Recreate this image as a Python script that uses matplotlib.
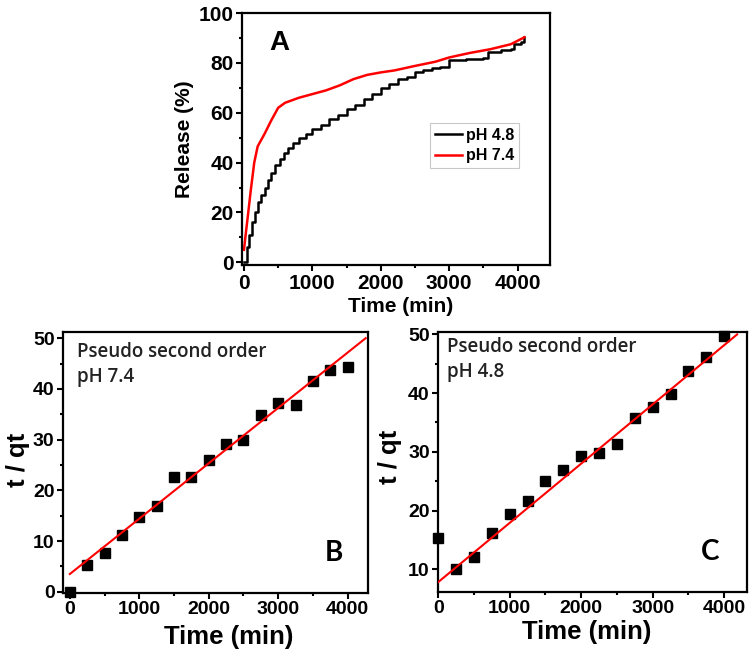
# IMPORTS
import matplotlib
matplotlib.use("Agg")
from matplotlib import pyplot as plt
from matplotlib.ticker import MultipleLocator

# DATA - panel A, cumulative release (%)
time_48 = [0, 40, 80, 120, 160, 200, 250, 300, 350, 400, 460, 520, 580, 650, 720, 800, 900, 1000,
           1120, 1250, 1380, 1500, 1620, 1750, 1870, 2000, 2120, 2250, 2380, 2500, 2620, 2750,
           2870, 3000, 3250, 3500, 3560, 3750, 3900, 3950, 4050, 4100]
release_48 = [0, 6, 11, 16, 20, 24, 27, 30, 33, 36, 39, 41.5, 44, 46, 48, 50, 51.5, 53.5,
              55, 57.5, 59, 61.5, 63, 65.5, 67.5, 70, 71.5, 73.5, 74.5, 76.5, 77, 78,
              78.5, 81, 81.5, 82, 84.5, 85, 85.5, 87.5, 88.5, 90.5]
time_74 = [0, 20, 50, 100, 150, 200, 300, 400, 500, 600, 800, 1000, 1200, 1400, 1600, 1800,
           2000, 2200, 2500, 2800, 3000, 3300, 3600, 3900, 4100]
release_74 = [5, 10, 17, 29, 40, 46.5, 51.5, 57, 62, 64, 66, 67.5, 69, 71, 73.5, 75.2,
              76.2, 77, 78.8, 80.5, 82.2, 84, 85.5, 87.5, 90.3]

# DATA - panels B and C, pseudo second order kinetics
kin_time = [0, 250, 500, 750, 1000, 1250, 1500, 1750, 2000, 2250, 2500, 2750, 3000, 3250, 3500, 3750, 4000]
tq_74 = [0, 5.2, 7.7, 11.2, 14.8, 16.9, 22.6, 22.6, 26.0, 29.1, 29.9, 34.9, 37.2, 36.9, 41.5, 43.8, 44.3]
tq_48 = [15.3, 10.1, 12.1, 16.1, 19.4, 21.7, 25.0, 26.9, 29.3, 29.8, 31.4, 35.8, 37.7, 39.9, 43.7, 46.1, 49.7]
fit_time_74 = [0, 4260]
fit_tq_74 = [3.5, 50]
fit_time_48 = [0, 4180]
fit_tq_48 = [7.8, 50]

plt.rcParams["font.family"] = ["Liberation Sans", "DejaVu Sans"]
plt.rcParams["axes.linewidth"] = 1.6

fig = plt.figure(figsize=(7.49, 6.55), dpi=100)
ax_a = fig.add_axes([0.323, 0.595, 0.411, 0.385])
ax_b = fig.add_axes([0.084, 0.095, 0.407, 0.398])
ax_c = fig.add_axes([0.585, 0.096, 0.4125, 0.397])


def style_axis(ax, tick_size):
    """Origin-like ticks: outward, on left/bottom only"""
    ax.tick_params(which="both", direction="out", top=False, right=False, width=1.5)
    ax.tick_params(which="major", length=4.5, pad=1.5)
    ax.tick_params(which="minor", length=2.5)
    for lab in ax.get_xticklabels() + ax.get_yticklabels():
        lab.set_fontweight("bold")
        lab.set_fontsize(tick_size)


# PANEL A
ax_a.plot(time_48, release_48, color="black", lw=1.8, drawstyle="steps-post", label="pH 4.8")
ax_a.plot(time_74, release_74, color="#ff0000", lw=1.8, label="pH 7.4")
ax_a.set_xlim(-30, 4470)
ax_a.set_ylim(-1.2, 100)
ax_a.xaxis.set_major_locator(MultipleLocator(1000))
ax_a.xaxis.set_minor_locator(MultipleLocator(500))
ax_a.yaxis.set_major_locator(MultipleLocator(20))
ax_a.yaxis.set_minor_locator(MultipleLocator(10))
style_axis(ax_a, 15)
ax_a.set_xlabel("Time (min)", fontsize=15, fontweight="bold")
ax_a.set_ylabel("Release (%)", fontsize=15, fontweight="bold")
ax_a.xaxis.set_label_coords(0.516, -0.125)
ax_a.yaxis.set_label_coords(-0.156, 0.5)
ax_a.text(0.12, 0.881, "A", transform=ax_a.transAxes, fontsize=20, fontweight="bold",
          ha="center", va="center")
leg = ax_a.legend(loc="lower left", bbox_to_anchor=(0.61, 0.385), borderaxespad=0,
                  fancybox=False, edgecolor="#c8c8c8", framealpha=1,
                  prop={"size": 11.5, "weight": "bold"}, handlelength=1.75,
                  handletextpad=0.25, borderpad=0.3, labelspacing=0.35)
leg.get_frame().set_linewidth(0.8)

# PANEL B
ax_b.plot(kin_time, tq_74, "s", color="black", ms=7.5, clip_on=False, zorder=3)
ax_b.plot(fit_time_74, fit_tq_74, color="#ff0000", lw=1.5, zorder=4)
ax_b.set_xlim(-100, 4290)
ax_b.set_ylim(-0.2, 51.2)
ax_b.xaxis.set_major_locator(MultipleLocator(1000))
ax_b.xaxis.set_minor_locator(MultipleLocator(500))
ax_b.yaxis.set_major_locator(MultipleLocator(10))
ax_b.yaxis.set_minor_locator(MultipleLocator(5))
style_axis(ax_b, 14)
ax_b.set_xlabel("Time (min)", fontsize=18.5, fontweight="bold")
ax_b.set_ylabel("t / qt", fontsize=18.5, fontweight="bold")
ax_b.xaxis.set_label_coords(0.544, -0.125)
ax_b.yaxis.set_label_coords(-0.108, 0.51)
ax_b.text(0.046, 0.923, "Pseudo second order", transform=ax_b.transAxes, fontsize=13.5,
          family="Open Sans", fontweight="semibold", color="#222222", va="center")
ax_b.text(0.046, 0.828, "pH 7.4", transform=ax_b.transAxes, fontsize=13.5,
          family="Open Sans", fontweight="semibold", color="#222222", va="center")
ax_b.text(0.889, 0.153, "B", transform=ax_b.transAxes, fontsize=20, family="Lato",
          fontweight="bold", ha="center", va="center")

# PANEL C
ax_c.plot(kin_time, tq_48, "s", color="black", ms=7.5, clip_on=False, zorder=3)
ax_c.plot(fit_time_48, fit_tq_48, color="#ff0000", lw=1.5, zorder=4)
ax_c.set_xlim(0, 4320)
ax_c.set_ylim(6.1, 50.4)
ax_c.xaxis.set_major_locator(MultipleLocator(1000))
ax_c.xaxis.set_minor_locator(MultipleLocator(500))
ax_c.yaxis.set_major_locator(MultipleLocator(10))
ax_c.yaxis.set_minor_locator(MultipleLocator(5))
style_axis(ax_c, 14)
ax_c.set_xlabel("Time (min)", fontsize=18.5, fontweight="bold")
ax_c.set_ylabel("t / qt", fontsize=18.5, fontweight="bold")
ax_c.xaxis.set_label_coords(0.482, -0.108)
ax_c.yaxis.set_label_coords(-0.117, 0.52)
ax_c.text(0.029, 0.942, "Pseudo second order", transform=ax_c.transAxes, fontsize=13.5,
          family="Open Sans", fontweight="semibold", color="#222222", va="center")
ax_c.text(0.029, 0.846, "pH 4.8", transform=ax_c.transAxes, fontsize=13.5,
          family="Open Sans", fontweight="semibold", color="#222222", va="center")
ax_c.text(0.880, 0.154, "C", transform=ax_c.transAxes, fontsize=20, family="Lato",
          fontweight="bold", ha="center", va="center")

fig.savefig("out.png", dpi=100)
